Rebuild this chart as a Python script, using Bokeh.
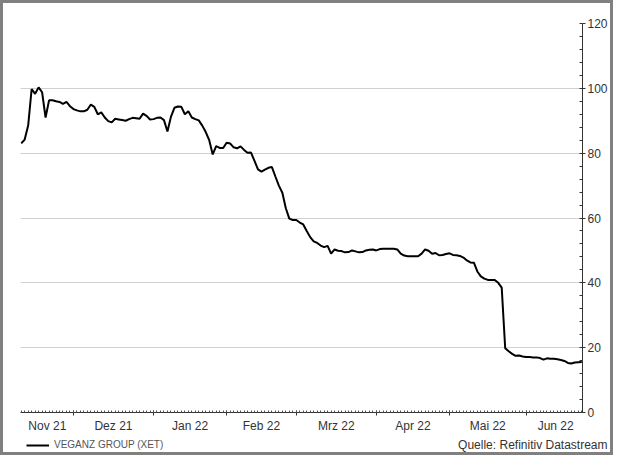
import datetime as dt
from bokeh.plotting import figure
from bokeh.layouts import column
from bokeh.models import (ColumnDataSource, Range1d, LinearAxis, FixedTicker,
                          Legend, LegendItem, Label)
from bokeh.embed import file_html
from bokeh.resources import INLINE

# ---- data -------------------------------------------------------------
start_date = dt.date(2021, 11, 10)   # first trading day (weekday series)
series_name = "VEGANZ GROUP (XET)"
prices = [
    83.0, 84.2, 88.5, 99.8, 98.3, 100.3, 98.8, 91.0, 96.3, 96.3,
    96.0, 95.8, 95.2, 95.8, 94.5, 93.6, 93.2, 92.9, 92.9, 93.4,
    95.0, 94.3, 92.0, 92.6, 91.0, 89.9, 89.5, 90.6, 90.4, 90.2,
    90.0, 90.5, 90.9, 90.8, 90.6, 92.2, 91.5, 90.4, 90.5, 90.9,
    91.0, 90.2, 86.7, 91.2, 94.0, 94.4, 94.3, 92.0, 92.9, 91.0,
    90.5, 90.1, 88.5, 86.5, 84.0, 79.6, 82.2, 81.6, 81.6, 83.2,
    83.0, 81.8, 81.5, 82.1, 81.0, 80.1, 80.2, 77.6, 75.0, 74.3,
    74.9, 75.5, 75.7, 72.8, 70.0, 67.8, 63.0, 59.8, 59.4, 59.4,
    58.6, 58.0, 56.0, 54.1, 52.8, 52.3, 51.5, 51.0, 51.4, 49.0,
    50.3, 49.9, 49.8, 49.4, 49.5, 50.0, 49.7, 49.4, 49.5, 50.0,
    50.2, 50.3, 50.0, 50.4, 50.5, 50.5, 50.5, 50.5, 50.3, 49.0,
    48.4, 48.2, 48.2, 48.2, 48.2, 49.0, 50.3, 49.9, 49.0, 49.2,
    48.5, 48.6, 48.9, 49.1, 48.6, 48.5, 48.3, 47.8, 46.9, 46.3,
    46.2, 43.5, 42.0, 41.3, 40.9, 40.9, 40.9, 40.0, 38.5, 19.8,
    18.9, 18.1, 17.5, 17.6, 17.3, 17.1, 17.1, 17.0, 17.0, 16.8,
    16.3, 16.7, 16.6, 16.6, 16.4, 16.2, 15.9, 15.3, 15.1, 15.4,
    15.5, 15.6,
]
month_labels = ["Nov 21", "Dez 21", "Jan 22", "Feb 22", "Mrz 22",
                "Apr 22", "Mai 22", "Jun 22"]
y_ticks = [0, 20, 40, 60, 80, 100, 120]
y_minor = list(range(0, 121, 4))
source_text = "Quelle: Refinitiv Datastream"

# ---- weekday index axis ------------------------------------------------
dates = []
d = start_date
while len(dates) < len(prices):
    if d.weekday() < 5:
        dates.append(d)
    d += dt.timedelta(days=1)
idx = list(range(len(prices)))

month_first = []   # index of first point of each month
for i, dd in enumerate(dates):
    if i == 0 or dd.month != dates[i - 1].month:
        month_first.append(i)
bounds = month_first + [len(prices)]
month_centers = [(bounds[k] + bounds[k + 1]) / 2 for k in range(len(month_first))]
month_ticks = month_first[1:]

src = ColumnDataSource(data=dict(x=idx, y=prices))

FONT = "Liberation Sans"
TXT = "#333333"
W = 607
H_MAIN = 432
H_FOOT = 449 - H_MAIN

p = figure(width=W, height=H_MAIN, output_backend="svg", toolbar_location=None,
           x_range=Range1d(-0.2, 161.2), y_range=Range1d(0, 120),
           y_axis_location="right",
           min_border_left=17, min_border_top=20, min_border_right=25,
           min_border_bottom=H_MAIN - 409)
p.frame_align = False
p.outline_line_color = None
p.background_fill_color = "white"
p.border_fill_color = "white"

r = p.line("x", "y", source=src, line_color="black", line_width=2)

# y axis (right)
ya = p.yaxis[0]
ya.ticker = FixedTicker(ticks=y_ticks, minor_ticks=y_minor)
ya.axis_line_color = "#333333"
ya.major_tick_line_color = "#333333"
ya.minor_tick_line_color = "#333333"
ya.major_tick_in = 0
ya.major_tick_out = 3
ya.minor_tick_in = 3
ya.minor_tick_out = 0
ya.major_label_standoff = 2
ya.major_label_text_font = FONT
ya.major_label_text_font_size = "12px"
ya.major_label_text_color = TXT

p.xgrid.visible = False
p.ygrid.grid_line_color = "#d0d0d0"
p.ygrid.grid_line_width = 1

# x axis: month boundaries + daily minor ticks
xa = p.xaxis[0]
xa.ticker = FixedTicker(ticks=month_ticks, minor_ticks=idx)
xa.major_label_overrides = {t: "" for t in month_ticks}
xa.major_label_text_font_size = "0px"
xa.major_label_standoff = 0
xa.axis_line_color = "#333333"
xa.major_tick_line_color = "#333333"
xa.minor_tick_line_color = "#555555"
xa.major_tick_in = 2
xa.major_tick_out = 3
xa.minor_tick_in = 2
xa.minor_tick_out = 0

# x axis: month labels centred in each month
xl = LinearAxis(ticker=FixedTicker(ticks=month_centers, minor_ticks=[]))
xl.major_label_overrides = {c: lab for c, lab in zip(month_centers, month_labels)}
xl.axis_line_color = None
xl.major_tick_line_color = None
xl.minor_tick_line_color = None
xl.major_tick_out = 0
xl.major_tick_in = 0
xl.major_label_standoff = 3
xl.major_label_text_font = FONT
xl.major_label_text_font_size = "12px"
xl.major_label_text_color = TXT
p.add_layout(xl, "below")

# ---- footer strip: legend + source ------------------------------------
# y range below the data, so the series itself stays out of view here
p2 = figure(width=W, height=H_FOOT, output_backend="svg", toolbar_location=None,
            x_range=Range1d(0, W), y_range=Range1d(-H_FOOT, 0),
            min_border=0, min_border_left=0, min_border_right=0,
            min_border_top=0, min_border_bottom=0,
            x_axis_location=None, y_axis_location=None)
p2.frame_align = False
p2.outline_line_color = None
p2.grid.visible = False
p2.background_fill_color = "white"
p2.border_fill_color = "white"
r2 = p2.line("x", "y", source=src, line_color="black", line_width=2)

legend = Legend(items=[LegendItem(label=series_name, renderers=[r2])],
                location=(23, 2), orientation="horizontal",
                border_line_color=None, background_fill_alpha=0,
                padding=0, margin=0, spacing=0,
                glyph_width=23, glyph_height=10, label_height=10,
                label_standoff=5, label_text_font=FONT,
                label_text_font_size="10px", label_text_color="#555555")
p2.add_layout(legend, "center")

p2.add_layout(Label(x=W - 3, y=-H_FOOT + 1, text=source_text, text_align="right",
                    text_baseline="bottom", text_font=FONT,
                    text_font_size="12px", text_color=TXT))

layout = column(p, p2, spacing=0,
                styles={"border": "3px solid #808080", "background": "white"})

open("out.html", "w").write(file_html(layout, INLINE))
